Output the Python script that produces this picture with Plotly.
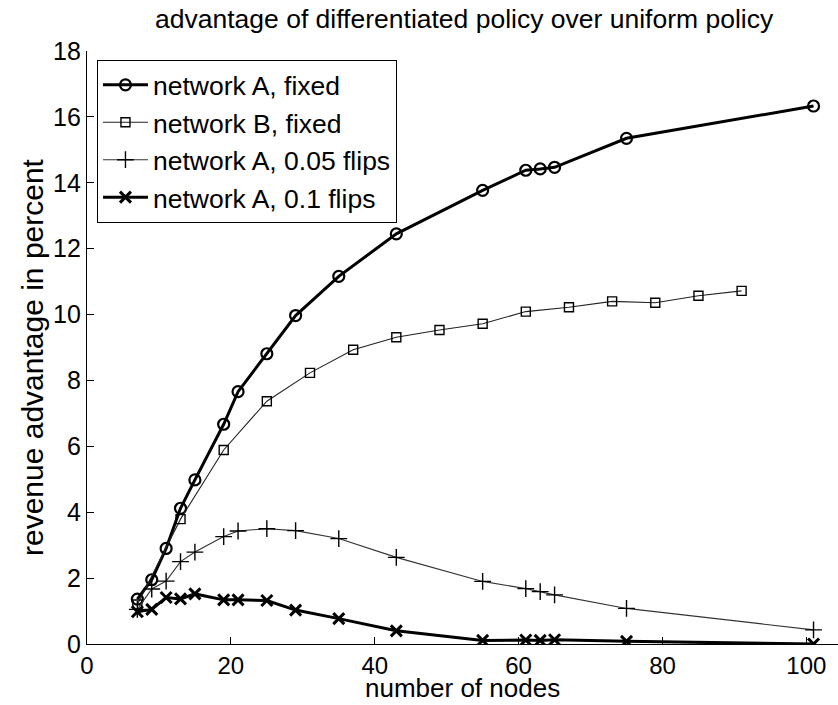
import plotly.graph_objects as go

# Node counts for each experiment
nodes_a = [7, 9, 11, 13, 15, 19, 21, 25, 29, 35, 43, 55, 61, 63, 65, 75, 101]
nodes_b = [7, 13, 19, 25, 31, 37, 43, 49, 55, 61, 67, 73, 79, 85, 91]

# Revenue advantage (percent) of the differentiated policy
adv_a_fixed = [1.36, 1.95, 2.90, 4.12, 4.98, 6.67, 7.66, 8.81, 9.97, 11.16,
               12.45, 13.77, 14.38, 14.42, 14.47, 15.35, 16.33]
adv_b_fixed = [1.20, 3.79, 5.89, 7.37, 8.23, 8.93, 9.31, 9.53, 9.72, 10.09,
               10.22, 10.40, 10.36, 10.57, 10.72]
adv_a_005 = [1.05, 1.67, 1.91, 2.50, 2.79, 3.26, 3.43, 3.50, 3.44, 3.20,
             2.63, 1.90, 1.68, 1.59, 1.49, 1.08, 0.43]
adv_a_01 = [0.98, 1.05, 1.41, 1.37, 1.52, 1.34, 1.34, 1.32, 1.03, 0.77,
            0.40, 0.11, 0.12, 0.11, 0.13, 0.08, 0.00]

x_ticks = [0, 20, 40, 60, 80, 100]
y_ticks = [0, 2, 4, 6, 8, 10, 12, 14, 16, 18]

FONT = "Liberation Sans, Arial, Helvetica, sans-serif"

fig = go.Figure()
fig.add_trace(go.Scatter(
    x=nodes_a, y=adv_a_fixed, name="network A, fixed", mode="lines+markers",
    line=dict(color="black", width=3),
    marker=dict(symbol="circle-open", size=11, color="black",
                line=dict(width=2.2, color="black")),
))
fig.add_trace(go.Scatter(
    x=nodes_b, y=adv_b_fixed, name="network B, fixed", mode="lines+markers",
    line=dict(color="#222222", width=1.1),
    marker=dict(symbol="square-open", size=9, color="black",
                line=dict(width=1.4, color="black")),
))
fig.add_trace(go.Scatter(
    x=nodes_a, y=adv_a_005, name="network A, 0.05 flips", mode="lines+markers",
    line=dict(color="#333333", width=1.1),
    marker=dict(symbol="cross-thin-open", size=12, color="black",
                line=dict(width=1.4, color="black")),
))
fig.add_trace(go.Scatter(
    x=nodes_a, y=adv_a_01, name="network A, 0.1 flips", mode="lines+markers",
    line=dict(color="black", width=3),
    marker=dict(symbol="x-thin-open", size=11, color="black",
                line=dict(width=3, color="black")),
))

fig.update_layout(
    width=838, height=705,
    margin=dict(l=87, r=0, t=51, b=61),
    paper_bgcolor="white", plot_bgcolor="white",
    font=dict(family=FONT, size=26, color="black"),
    showlegend=True,
    legend=dict(
        x=0.013, y=0.985, xanchor="left", yanchor="top",
        bgcolor="white", bordercolor="black", borderwidth=1.2,
        font=dict(family=FONT, size=26.5), tracegroupgap=0, itemwidth=45,
    ),
    annotations=[
        dict(text="advantage of differentiated policy over uniform policy",
             xref="paper", yref="paper", x=0.503, y=1 + (51 - 19) / 593,
             xanchor="center", yanchor="middle", showarrow=False,
             font=dict(family=FONT, size=26.5)),
        dict(text="number of nodes", xref="paper", yref="paper",
             x=0.5, y=-(705 - 644) / 593, xanchor="center", yanchor="bottom",
             showarrow=False, font=dict(family=FONT, size=26)),
        dict(text="revenue advantage in percent", xref="paper", yref="paper",
             x=-(87 - 32) / 751, y=(644 - 357) / 593, xanchor="center", yanchor="middle",
             textangle=-90, showarrow=False, font=dict(family=FONT, size=30)),
    ],
)

fig.update_xaxes(
    range=[0, 104.4], tickvals=x_ticks, ticktext=[str(v) for v in x_ticks],
    ticks="inside", ticklen=7, tickwidth=1, tickcolor="black",
    showline=True, linecolor="black", linewidth=1.2, showgrid=False, zeroline=False,
    tickfont=dict(family=FONT, size=24), mirror=False,
)
fig.update_yaxes(
    range=[0, 18], tickvals=y_ticks, ticktext=[str(v) for v in y_ticks],
    ticks="inside", ticklen=7, tickwidth=1, tickcolor="black",
    showline=True, linecolor="black", linewidth=1.2, showgrid=False, zeroline=False,
    tickfont=dict(family=FONT, size=25), mirror=False,
)

fig.write_html("out.html")
